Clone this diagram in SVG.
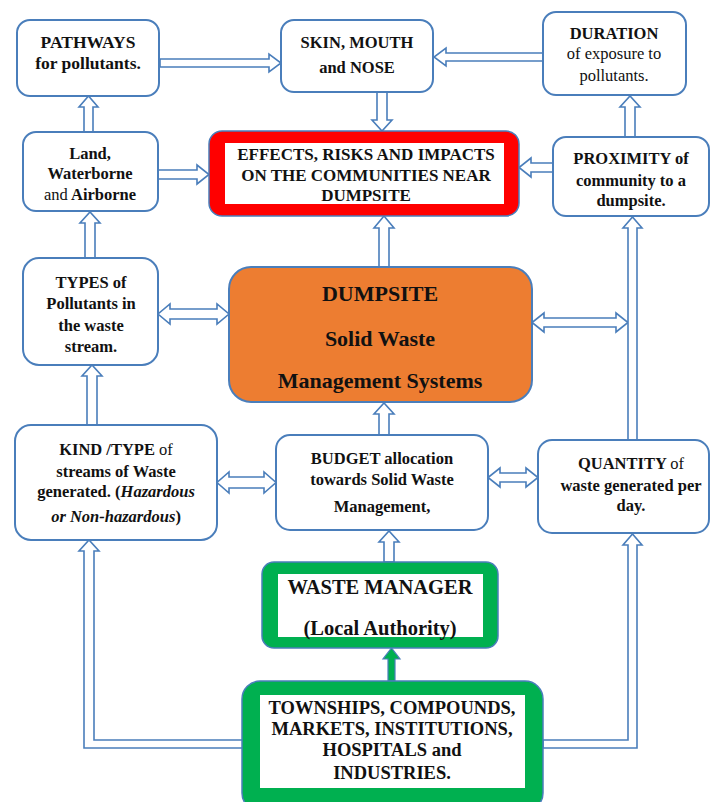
<svg xmlns="http://www.w3.org/2000/svg" width="711" height="802" viewBox="0 0 711 802">
<style>
.box{fill:#fff;stroke:#4a7ebb;stroke-width:2}
.ar{fill:#fff;stroke:#4a7ebb;stroke-width:1.6;stroke-linejoin:miter}
text{font-family:"Liberation Serif","Times New Roman",serif;font-weight:bold;fill:#111;text-anchor:middle}
.t{font-size:16.5px}
.n{font-weight:normal}
.i{font-style:italic}
</style>
<rect width="711" height="802" fill="#fff"/>
<g id="connectors">
<polygon class="ar" points="160,59 269,59 269,54 281,63 269,72 269,67 160,67"/>
<polygon class="ar" points="543,53 446,53 446,48 434,57 446,66 446,61 543,61"/>
<polygon class="ar" points="377,92 377,120 372,120 382,131 392,120 387,120 387,92"/>
<polygon class="ar" points="84,132 84,107 79,107 88.5,96 98,107 93,107 93,132"/>
<polygon class="ar" points="158,170 197,170 197,165 209,174.5 197,184 197,179 158,179"/>
<polygon class="ar" points="553,163 531,163 531,158 519,167.5 531,177 531,172 553,172"/>
<polygon class="ar" points="625,137 625,107 620,107 630,96 640,107 635,107 635,137"/>
<polygon class="ar" points="85,258 85,223 80,223 90,212 100,223 95,223 95,258"/>
<polygon class="ar" points="170,309 217,309 217,304 229,314 217,324 217,319 170,319 170,324 158,314 170,304"/>
<polygon class="ar" points="87,425 87,376 82,376 92,365 102,376 97,376 97,425"/>
<polygon class="ar" points="379,267 379,228 374,228 384,216 394,228 389,228 389,267"/>
<polygon class="ar" points="544,318 616,318 616,313 628,322.5 616,332 616,327 544,327 544,332 532,322.5 544,313"/>
<polygon class="ar" points="628,440 628,228 623,228 632.5,217 642,228 637,228 637,440"/>
<polygon class="ar" points="379,435 379,414 374,414 384,403 394,414 389,414 389,435"/>
<polygon class="ar" points="229,477 264,477 264,472 276,482.5 264,493 264,488 229,488 229,493 217,482.5 229,472"/>
<polygon class="ar" points="500,473 526,473 526,468 538,477.5 526,487 526,482 500,482 500,487 488,477.5 500,468"/>
<polygon class="ar" points="384,562 384,542 379,542 389,531 399,542 394,542 394,562"/>
<polygon points="388,681 388,659 383,659 391.5,648 400,659 395,659 395,681" fill="#00b050" stroke="#4a7ebb" stroke-width="1.2"/>
<polygon class="ar" points="243,740 94,740 94,551 99,551 89,540 79,551 84,551 84,748 243,748"/>
<polygon class="ar" points="543,740 628,740 628,545 623,545 632.5,534 642,545 637,545 637,748 543,748"/>
</g>
<g id="pathways">
<rect class="box" x="17" y="20" width="142" height="76" rx="13"/>
<text x="88" y="48" font-size="17.5">PATHWAYS</text>
<text x="88" y="69" font-size="17.5">for pollutants.</text>
</g>
<g id="skin">
<rect class="box" x="281" y="20" width="152" height="72" rx="13"/>
<text class="t" x="357" y="48">SKIN, MOUTH</text>
<text class="t" x="357" y="73">and NOSE</text>
</g>
<g id="duration">
<rect class="box" x="543" y="12" width="143" height="83" rx="13"/>
<text class="t" x="614" y="39">DURATION</text>
<text class="t n" x="614" y="59">of exposure to</text>
<text class="t n" x="614" y="81">pollutants.</text>
</g>
<g id="land">
<rect class="box" x="23" y="132" width="135" height="79" rx="13"/>
<text class="t" x="90" y="159">Land,</text>
<text class="t" x="90" y="179">Waterborne</text>
<text class="t" x="90" y="200"><tspan class="n">and</tspan> Airborne</text>
</g>
<g id="effects">
<rect x="209" y="131" width="310" height="85" rx="13" fill="#ff0000" stroke="#4a7ebb" stroke-width="1.5"/>
<rect x="225" y="143" width="279" height="61" fill="#fff"/>
<text x="366" y="160" font-size="17">EFFECTS, RISKS AND IMPACTS</text>
<text x="366" y="181" font-size="17">ON THE COMMUNITIES NEAR</text>
<text x="366" y="201" font-size="17">DUMPSITE</text>
</g>
<g id="proximity">
<rect class="box" x="553" y="137" width="156" height="79" rx="13"/>
<text class="t" x="631" y="164">PROXIMITY of</text>
<text class="t" x="631" y="186">community to a</text>
<text class="t" x="631" y="206">dumpsite.</text>
</g>
<g id="types">
<rect class="box" x="23" y="258" width="135" height="107" rx="16"/>
<text class="t" x="91" y="288">TYPES of</text>
<text class="t" x="91" y="309">Pollutants in</text>
<text class="t" x="91" y="331">the waste</text>
<text class="t" x="91" y="352">stream.</text>
</g>
<g id="dumpsite">
<rect x="229" y="267" width="303" height="135" rx="22" fill="#ed7d31" stroke="#4a7ebb" stroke-width="2"/>
<text x="380" y="301" font-size="22">DUMPSITE</text>
<text x="380" y="346" font-size="22">Solid Waste</text>
<text x="380" y="388" font-size="22">Management Systems</text>
</g>
<g id="kind">
<rect class="box" x="15" y="425" width="202" height="115" rx="16"/>
<text class="t" x="116" y="455">KIND /TYPE <tspan class="n">of</tspan></text>
<text class="t" x="116" y="477">streams of Waste</text>
<text class="t" x="116" y="497">generated. (<tspan class="i">Hazardous</tspan></text>
<text class="t" x="116" y="522"><tspan class="i">or Non-hazardous</tspan>)</text>
</g>
<g id="budget">
<rect class="box" x="276" y="435" width="212" height="95" rx="14"/>
<text class="t" x="382" y="464">BUDGET allocation</text>
<text class="t" x="382" y="485">towards Solid Waste</text>
<text class="t" x="382" y="512">Management,</text>
</g>
<g id="quantity">
<rect class="box" x="538" y="440" width="171" height="93" rx="14"/>
<text class="t" x="631" y="469">QUANTITY <tspan class="n">of</tspan></text>
<text class="t" x="631" y="491">waste generated per</text>
<text class="t" x="631" y="511">day.</text>
</g>
<g id="manager">
<rect x="262" y="562" width="236" height="86" rx="12" fill="#00b050" stroke="#4a7ebb" stroke-width="1.5"/>
<rect x="278" y="574" width="205" height="63" fill="#fff"/>
<text x="380" y="594" font-size="20.5">WASTE MANAGER</text>
<text x="380" y="635" font-size="20.5">(Local Authority)</text>
</g>
<g id="townships">
<rect x="242" y="681" width="301" height="130" rx="18" fill="#00b050" stroke="#4a7ebb" stroke-width="1.5"/>
<rect x="260" y="695" width="265" height="93" fill="#fff"/>
<text x="392" y="714" font-size="18.5">TOWNSHIPS, COMPOUNDS,</text>
<text x="392" y="735" font-size="18.5">MARKETS, INSTITUTIONS,</text>
<text x="392" y="756" font-size="18.5">HOSPITALS and</text>
<text x="392" y="779" font-size="18.5">INDUSTRIES.</text>
</g>
</svg>
